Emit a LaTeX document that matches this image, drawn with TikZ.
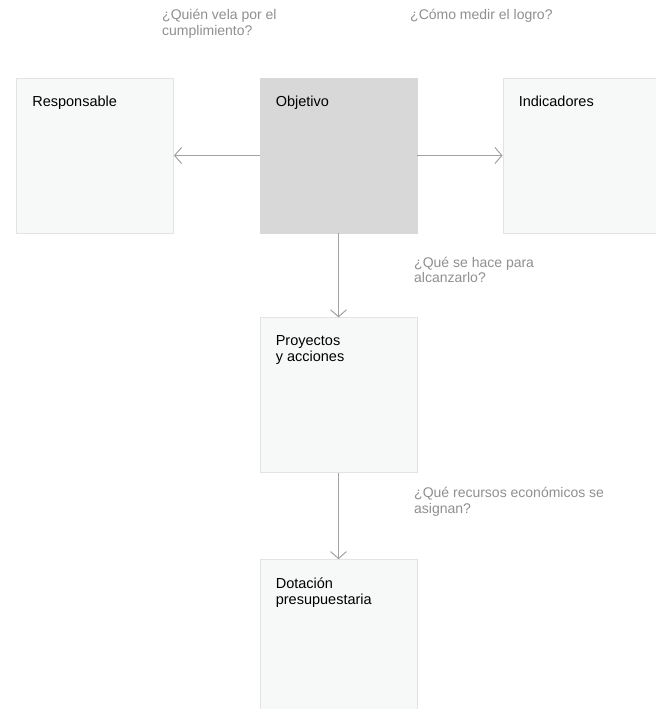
\documentclass[tikz,border=0pt]{standalone}
\usepackage{fontspec}
\setmainfont{Liberation Sans}
\usetikzlibrary{arrows.meta,positioning}
\definecolor{boxfill}{HTML}{F7F8F8}
\definecolor{boxline}{HTML}{E2E3E3}
\definecolor{goalfill}{HTML}{D8D8D9}
\definecolor{arrowgray}{HTML}{A2A2A2}
\definecolor{qgray}{HTML}{8F8F8F}
\tikzset
{
    planbox/.style = {rectangle, draw=boxline, fill=boxfill, line width=0.8pt,
                          minimum width=157pt, minimum height=155pt, inner sep=0pt},
    goalbox/.style = {planbox, fill=goalfill, draw=goalfill},
    % base west = baseline of the last line
    boxtext/.style = {anchor=base west, align=left, inner sep=0pt,
                          font=\fontsize{14.5}{16.5}\selectfont},
    question/.style = {anchor=base west, align=left, inner sep=0pt, text=qgray,
                          font=\fontsize{14}{15.5}\selectfont},
    flow/.style = {draw=arrowgray, line width=1.3pt,
                          -{Straight Barb[length=7pt,width=16pt,line width=1pt]}}
}
\begin{document}
\begin{tikzpicture}[x=1pt, y=-1pt]
        \useasboundingbox (0,0) rectangle (656,709);
        \clip (0,0) rectangle (656,709);
        % boxes
        \node[planbox] (resp) at (95,155.5) {};
        \node[goalbox] (obj) at (338.5,155.5) {};
        \node[planbox] (ind) at (581.5,155.5) {};
        \node[planbox, below=84pt of obj] (proy) {};
        \node[planbox, below=86pt of proy] (dot) {};
        % box titles
        \node[boxtext] (resptxt) at ([shift={(16pt,-28.5pt)}]resp.north west) {Responsable};
        \node[boxtext] (objtxt) at ([shift={(16pt,-28.5pt)}]obj.north west) {Objetivo};
        \node[boxtext] (indtxt) at ([shift={(16pt,-28.5pt)}]ind.north west) {Indicadores};
        \node[boxtext] (proytxt) at ([shift={(16pt,-44.5pt)}]proy.north west) {Proyectos\\y acciones};
        \node[boxtext] (dottxt) at ([shift={(16pt,-45.5pt)}]dot.north west) {Dotación\\presupuestaria};
        % questions
        \node[question] (qresp) at (162,35.5) {¿Quién vela por el\\cumplimiento?};
        \node[question] (qind) at (410,20) {¿Cómo medir el logro?};
        \node[question] (qproy) at (414,282.5) {¿Qué se hace para\\alcanzarlo?};
        \node[question] (qdot) at (414,513) {¿Qué recursos económicos se\\asignan?};
        % connectors
        \draw[flow] (obj) -- (resp);
        \draw[flow] (obj) -- (ind);
        \draw[flow] (obj) -- (proy);
        \draw[flow] (proy) -- (dot);
\end{tikzpicture}
\end{document}
